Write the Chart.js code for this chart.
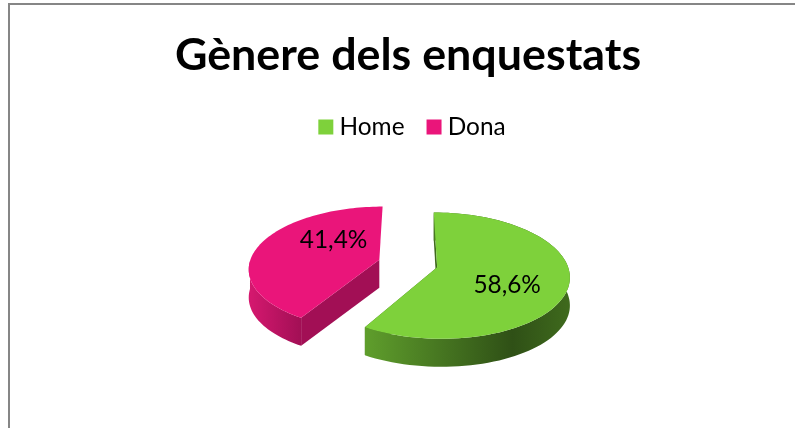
<!DOCTYPE html>
<html>
<head>
<meta charset="utf-8">
<script src="https://cdn.jsdelivr.net/npm/chart.js@4"></script>
<style>
  html, body { margin: 0; padding: 0; background: #fff; overflow: hidden; }
  #wrap { position: absolute; left: 8px; top: 3px; width: 787px; height: 425px;
          box-sizing: border-box; border-top: 2px solid #868686; border-left: 2px solid #868686; }
  #myChart { display: block; }
</style>
</head>
<body>
<div id="wrap"><canvas id="myChart"></canvas></div>
<script>
const categories = ['Home', 'Dona'];
const percentages = [58.6, 41.4];
const sliceColors = ['#7ed13b', '#ea157a'];
const darkColors = [['#5f9e2c', '#2f5016', '#3f6a1d'], ['#d5186f', '#a20f55', '#a20f55']];
const chartTitle = 'Gènere dels enquestats';

const fontName = 'Lato';
const squash = 0.47;     // vertical flattening of the disc
const perspective = 0.001;
const depth = 28;
// labels do not sit on the slice's middle angle in the original
const labelTurn = [0.24, 0.46];
const labelDist = [0.58, 0.51];

function project(chart, X, Y) {
  const a = chart.chartArea;
  const cx = (a.left + a.right) / 2, cy = (a.top + a.bottom) / 2;
  const s = 1 / (1 - perspective * Y);
  return [cx + X * s, cy + squash * Y * s];
}

// flat outline of one slice, offset along its middle angle
function outline(chart, arc, off) {
  const p = arc.getProps(['x', 'y', 'startAngle', 'endAngle', 'outerRadius'], true);
  const mid = (p.startAngle + p.endAngle) / 2;
  const ox = Math.cos(mid) * off, oy = Math.sin(mid) * off;
  const pts = [];
  const steps = 90;
  for (let i = 0; i <= steps; i++) {
    const t = p.startAngle + (p.endAngle - p.startAngle) * i / steps;
    pts.push(project(chart, ox + Math.cos(t) * p.outerRadius, oy + Math.sin(t) * p.outerRadius));
  }
  return { rim: pts, apex: project(chart, ox, oy), mid, ox, oy, r: p.outerRadius };
}

function fillPath(ctx, pts, fill) {
  ctx.beginPath();
  pts.forEach((q, i) => i ? ctx.lineTo(q[0], q[1]) : ctx.moveTo(q[0], q[1]));
  ctx.closePath();
  ctx.fillStyle = fill;
  ctx.fill();
}

function wall(line) {
  const below = line.map(q => [q[0], q[1] + depth]).reverse();
  return line.concat(below);
}

const pie3d = {
  id: 'pie3d',
  afterLayout(chart) {
    // legend sits a little right of the title in the original
    chart.legend.left += 7;
    chart.legend.right += 7;
  },
  beforeDatasetsDraw(chart) {
    const ctx = chart.ctx;
    const meta = chart.getDatasetMeta(0);
    const off = chart.data.datasets[0].offset;
    meta.data.forEach((arc, i) => {
      const o = outline(chart, arc, off);
      const rim = o.rim;
      // cut faces first, they sit behind the rim
      if (i === 0) {
        fillPath(ctx, wall([o.apex, rim[rim.length - 1]]), darkColors[i][2]);
        fillPath(ctx, wall([o.apex, rim[0]]), darkColors[i][2]);
      } else {
        fillPath(ctx, wall([o.apex, rim[0]]), darkColors[i][2]);
      }
      // outer side, shaded left to right
      const xs = rim.map(q => q[0]);
      const g = ctx.createLinearGradient(Math.min(...xs), 0, Math.max(...xs), 0);
      g.addColorStop(0, darkColors[i][0]);
      if (i === 0) {
        g.addColorStop(0.72, darkColors[i][1]);
        g.addColorStop(1, darkColors[i][2]);
        fillPath(ctx, wall(rim), g);
      } else {
        const g2 = ctx.createLinearGradient(o.apex[0] - o.r, 0, rim[0][0], 0);
        g2.addColorStop(0, darkColors[i][0]);
        g2.addColorStop(1, darkColors[i][1]);
        // only the front part of the rim shows
        fillPath(ctx, wall(rim.filter(q => q[1] > o.apex[1])), g2);
      }
      fillPath(ctx, [o.apex, ...rim], sliceColors[i]);
    });
    // percent labels
    ctx.save();
    ctx.font = '24.4px ' + fontName;
    ctx.fillStyle = '#000';
    ctx.textAlign = 'center';
    ctx.textBaseline = 'middle';
    meta.data.forEach((arc, i) => {
      const o = outline(chart, arc, off);
      const rr = o.r * labelDist[i];
      const t = o.mid + labelTurn[i];
      const q = project(chart, o.ox + Math.cos(t) * rr, o.oy + Math.sin(t) * rr);
      ctx.fillText(percentages[i].toFixed(1).replace('.', ',') + '%', q[0], q[1]);
    });
    ctx.restore();
    return false;
  }
};

const canvas = document.getElementById('myChart');
canvas.width = 785;
canvas.height = 423;

new Chart(canvas, {
  type: 'pie',
  data: {
    labels: categories,
    datasets: [{ data: percentages, backgroundColor: sliceColors, borderWidth: 0, offset: 30, radius: 130 }]
  },
  plugins: [pie3d],
  options: {
    responsive: false,
    animation: false,
    layout: { padding: { left: 11, bottom: 50 } },
    plugins: {
      tooltip: { enabled: false },
      title: {
        display: true,
        text: chartTitle,
        color: '#000',
        font: { family: fontName, size: 44.8, weight: 'bold' },
        padding: { top: 24, bottom: 4 }
      },
      legend: {
        position: 'top',
        labels: {
          color: '#000',
          usePointStyle: true,
          pointStyle: 'rect',
          boxWidth: 3,
          boxHeight: 15,
          padding: 28,
          font: { family: fontName, size: 24.4 }
        }
      }
    }
  }
});
</script>
</body>
</html>
